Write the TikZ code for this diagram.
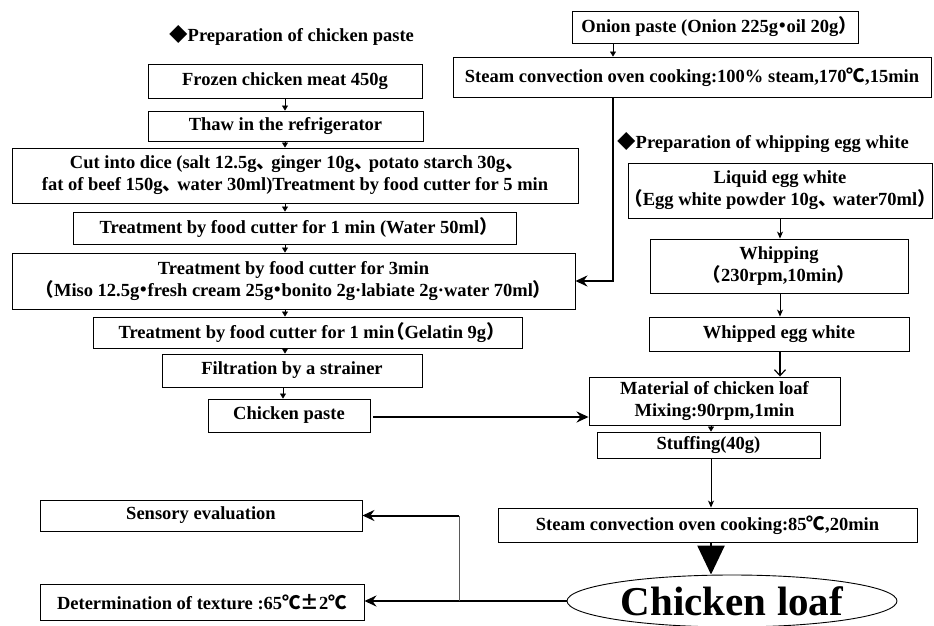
\documentclass[tikz,border=0pt]{standalone}
\usepackage{fontspec}
\setmainfont{Liberation Serif}
\newfontfamily\cjk{Noto Sans CJK JP}
\usetikzlibrary{arrows.meta,shapes.geometric,calc}
\newcommand\jd{\makebox[0.8em][l]{\cjk 、}}
\newcommand\jm{\makebox[0.45em]{\cjk ・}}
\newcommand\jl{\makebox[0.55em][r]{\cjk （}}
\newcommand\jr{\makebox[0.55em][l]{\cjk ）}}
\newcommand\jc{{\cjk ℃}}
\newcommand\jpm{{\cjk ±}}
\newcommand\jdia{{\cjk ◆}}
\begin{document}
\begin{tikzpicture}[x=1pt,y=-1pt,
  bx/.style={draw, line width=0.9pt, inner sep=0pt, align=center,
    font=\fontsize{18.5}{22}\selectfont\bfseries},
  ttl/.style={inner sep=0pt, anchor=west, font=\fontsize{18.5}{22}\selectfont\bfseries},
  tri/.style={line width=0.6pt, -{Triangle[length=5pt,width=6pt]}},
  thn/.style={line width=0.8pt, -{Stealth[length=7pt,width=6pt,inset=2pt]}},
  opn/.style={line width=1.2pt, -{Straight Barb[length=6pt,width=11pt]}},
  thk/.style={line width=2pt, -{Stealth[length=12pt,width=11pt,inset=4pt]}},
  big/.style={line width=2.5pt, -{Triangle[length=29pt,width=27pt]}}]
\useasboundingbox (0,0) rectangle (934,626);

% titles
\node[ttl] (t1) at (169,35) {\jdia Preparation of chicken paste};
\node[ttl] (t2) at (617,143) {\jdia Preparation of whipping egg white};

% left column
\node[bx, minimum width=274pt, minimum height=34pt] (frozen) at (285,81) {Frozen chicken meat 450g};
\node[bx, minimum width=275pt, minimum height=30pt] (thaw) at (285.5,126) {Thaw in the refrigerator};
\node[bx, minimum width=566pt, minimum height=55pt] (cut) at (295,175.5)
  {Cut into dice (salt 12.5g\jd ginger 10g\jd potato starch 30g\jd\\fat of beef 150g\jd water 30ml)Treatment by food cutter for 5 min};
\node[bx, minimum width=443pt, minimum height=32pt] (ta) at (294.5,228) {Treatment by food cutter for 1 min (Water 50ml\jr};
\node[bx, minimum width=563pt, minimum height=56pt] (tb) at (293.5,281)
  {Treatment by food cutter for 3min\\\jl Miso 12.5g\jm fresh cream 25g\jm bonito 2g·labiate 2g·water 70ml\jr};
\node[bx, minimum width=429pt, minimum height=31pt] (gel) at (307.5,332.5) {Treatment by food cutter for 1 min\jl Gelatin 9g\jr};
\node[bx, minimum width=260pt, minimum height=33pt] (filt) at (292,370.5) {Filtration by a strainer};
\node[bx, minimum width=162pt, minimum height=33pt] (paste) at (289,415.5) {Chicken paste};

% right column
\node[bx, minimum width=286pt, minimum height=32pt] (onion) at (715,27) {Onion paste (Onion 225g\jm oil 20g\jr};
\node[bx, minimum width=478pt, minimum height=40pt] (steama) at (692,77) {Steam convection oven cooking:100\% steam,170\jc,15min};
\node[bx, minimum width=304pt, minimum height=55pt] (liquid) at (780,190.5) {Liquid egg white\\\jl Egg white powder 10g\jd water70ml\jr};
\node[bx, minimum width=258pt, minimum height=54pt] (whip) at (779,266) {Whipping\\\jl 230rpm,10min\jr};
\node[bx, minimum width=260pt, minimum height=34pt] (whipped) at (779,334) {Whipped egg white};
\node[bx, minimum width=251pt, minimum height=48pt] (mat) at (714.5,401) {Material of chicken loaf\\Mixing:90rpm,1min};
\node[bx, minimum width=223pt, minimum height=26pt] (stuff) at (708.5,445) {Stuffing(40g)};
\node[bx, minimum width=419pt, minimum height=34pt] (steamb) at (707.5,525) {Steam convection oven cooking:85\jc,20min};
\node[draw, ellipse, line width=0.9pt, inner sep=0pt, minimum width=330pt, minimum height=52pt,
  font=\fontsize{41}{46}\selectfont\bfseries] (loaf) at (732,601) {Chicken loaf};

% bottom left
\node[bx, minimum width=322pt, minimum height=31pt] (sens) at (201,515.5) {Sensory evaluation};
\node[bx, minimum width=324pt, minimum height=36pt] (tex) at (202,602) {Determination of texture :65\jc\jpm 2\jc};

% helper coordinates
\coordinate (ax) at (285,0);
\coordinate (fx) at (283,0);
\coordinate (sx) at (613,0);
\coordinate (wx) at (780,0);
\coordinate (mx) at (711,0);
\coordinate (jx) at (459,0);

% left column arrows
\draw[tri] (frozen.south -| ax) -- (thaw.north -| ax);
\draw[tri] (thaw.south -| ax) -- (cut.north -| ax);
\draw[tri] (cut.south -| ax) -- (ta.north -| ax);
\draw[tri] (ta.south -| ax) -- (tb.north -| ax);
\draw[tri] (tb.south -| ax) -- (gel.north -| ax);
\draw[tri] (gel.south -| ax) -- (filt.north -| ax);
\draw[tri] (filt.south -| fx) -- (paste.north -| fx);

% onion branch
\draw[tri] (onion.south -| sx) -- (steama.north -| sx);
\draw[thk] (steama.south -| sx) |- (tb.east);

% egg white branch
\draw[thn] (liquid.south -| wx) -- (whip.north -| wx);
\draw[thn] (whip.south -| wx) -- (whipped.north -| wx);
\draw[opn] (whipped.south -| wx) -- (mat.north -| wx);

% chicken paste to material
\draw[thk, shorten <=3pt] ($(paste.east)+(0,1.5)$) -- ($(paste.east -| mat.west)+(0,1.5)$);

% to loaf
\draw[tri] (mat.south -| mx) -- (stuff.north -| mx);
\draw[thn] (stuff.south -| mx) -- (steamb.north -| mx);
\draw[big] (steamb.south -| mx) -- (loaf.north -| mx);

% loaf to evaluations
\draw[thk] (loaf.west) -- (loaf.west -| tex.east);
\draw[line width=0.9pt, gray!70!black] (loaf.west -| jx) -- (sens.east -| jx);
\draw[thk] (sens.east -| jx) -- (sens.east);
\end{tikzpicture}
\end{document}
